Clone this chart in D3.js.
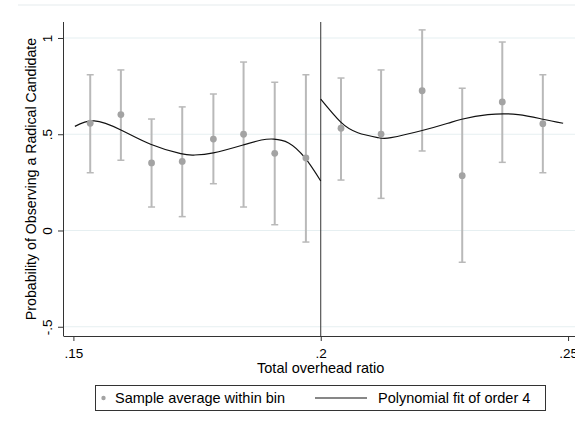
<!DOCTYPE html>
<html>
<head>
<meta charset="utf-8">
<script src="https://cdn.jsdelivr.net/npm/d3@7"></script>
<style>
  html, body { margin: 0; padding: 0; background: #fff; }
  svg { display: block; font-family: "Liberation Sans", Arial, sans-serif; }
</style>
</head>
<body>
<svg id="chart" width="575" height="429"></svg>
<script>
// ---- Data ----
const binX    = [0.1534, 0.1596, 0.1658, 0.1720, 0.1783, 0.1844, 0.1907, 0.1970,
                 0.2041, 0.2122, 0.2205, 0.2286, 0.2367, 0.2449];
const binMean = [0.557, 0.602, 0.351, 0.359, 0.475, 0.500, 0.401, 0.377,
                 0.531, 0.501, 0.726, 0.285, 0.668, 0.555];
const ciHigh  = [0.809, 0.834, 0.579, 0.642, 0.709, 0.875, 0.770, 0.809,
                 0.792, 0.834, 1.042, 0.739, 0.979, 0.809];
const ciLow   = [0.300, 0.365, 0.122, 0.072, 0.243, 0.122, 0.030, -0.060,
                 0.262, 0.167, 0.413, -0.165, 0.354, 0.300];

// Polynomial fit (order 4), left of cutoff
const fitLeftX  = [0.1503, 0.1542, 0.1596, 0.1656, 0.1717, 0.1744, 0.1783, 0.1843, 0.1880, 0.1905, 0.1935, 0.1968, 0.2000];
const fitLeftY  = [0.541, 0.569, 0.522, 0.448, 0.399, 0.392, 0.403, 0.444, 0.470, 0.475, 0.455, 0.378, 0.257];
// Polynomial fit (order 4), right of cutoff
const fitRightX = [0.2000, 0.2040, 0.2075, 0.2116, 0.2142, 0.2203, 0.2257, 0.2285, 0.2338, 0.2399, 0.2449, 0.2490];
const fitRightY = [0.682, 0.564, 0.508, 0.482, 0.482, 0.518, 0.557, 0.578, 0.602, 0.602, 0.578, 0.557];

const cutoff = 0.2;
const xTicks = [0.15, 0.2, 0.25];
const xTickLabels = [".15", ".2", ".25"];
const yTicks = [-0.5, 0, 0.5, 1];
const yTickLabels = ["-.5", "0", ".5", "1"];
const xTitle = "Total overhead ratio";
const yTitle = "Probability of Observing a Radical Candidate";
const legendLabels = ["Sample average within bin", "Polynomial fit of order 4"];

(function () {
// ---- Layout ----
const svg = d3.select("#chart");
const pl = 64, pr = 575, pt = 22, pb = 336;

const x = d3.scaleLinear().domain([0.1481, 0.2514]).range([pl, pr]);
const y = d3.scaleLinear().domain([-0.548, 1.083]).range([pb, pt]);

const gridColor = "#e6eff1";
const axisColor = "#333";
const barColor = "#b9b9b9";
const dotColor = "#a3a3a3";

// faint outer plot-region line at top
svg.append("line").attr("x1", 18).attr("x2", 575).attr("y1", 5).attr("y2", 5)
  .attr("stroke", "#eef2f3").attr("stroke-width", 1.5);

// grid lines
svg.append("g").selectAll("line").data(yTicks).join("line")
  .attr("x1", pl).attr("x2", pr)
  .attr("y1", d => y(d)).attr("y2", d => y(d))
  .attr("stroke", gridColor).attr("stroke-width", 1.2);

// Y axis
const yAxis = d3.axisLeft(y).tickValues(yTicks).tickSize(6).tickFormat((d, i) => yTickLabels[i]);
const gy = svg.append("g").attr("transform", `translate(${pl},0)`).call(yAxis);
gy.select(".domain").attr("stroke", axisColor).attr("d", `M-0.5,${pt}V${pb}`);
gy.selectAll(".tick line").attr("stroke", axisColor);
gy.selectAll(".tick text")
  .attr("x", 0).attr("y", 0).attr("dy", 0)
  .attr("transform", "translate(-12,0) rotate(-90)")
  .attr("text-anchor", "middle")
  .attr("font-size", 13.5).attr("fill", "#000")
  .style("font-family", "Liberation Sans, Arial, sans-serif");

// X axis
const xAxis = d3.axisBottom(x).tickValues(xTicks).tickSize(5).tickFormat((d, i) => xTickLabels[i]);
const gx = svg.append("g").attr("transform", `translate(0,${pb})`).call(xAxis);
gx.select(".domain").attr("stroke", axisColor).attr("d", `M${pl - 0.5},0.5H${pr}`);
gx.selectAll(".tick line").attr("stroke", axisColor);
gx.selectAll(".tick text")
  .attr("y", 22).attr("dy", 0)
  .attr("font-size", 13.5).attr("fill", "#000")
  .style("font-family", "Liberation Sans, Arial, sans-serif");

// axis titles
svg.append("text").attr("x", x(cutoff)).attr("y", 373)
  .attr("text-anchor", "middle").attr("font-size", 14.5).text(xTitle);
svg.append("text").attr("transform", `translate(36,${(pt + pb) / 2}) rotate(-90)`)
  .attr("text-anchor", "middle").attr("font-size", 14.2).text(yTitle);

// cutoff line
svg.append("line").attr("x1", x(cutoff)).attr("x2", x(cutoff))
  .attr("y1", pt).attr("y2", pb)
  .attr("stroke", axisColor).attr("stroke-width", 1);

// error bars
const bins = binX.map((bx, i) => ({ x: bx, m: binMean[i], lo: ciLow[i], hi: ciHigh[i] }));
const eb = svg.append("g").attr("stroke", barColor).attr("stroke-width", 2).attr("fill", "none");
eb.selectAll("line.v").data(bins).join("line").attr("class", "v")
  .attr("x1", d => x(d.x)).attr("x2", d => x(d.x))
  .attr("y1", d => y(d.lo)).attr("y2", d => y(d.hi));
eb.selectAll("line.t").data(bins).join("line").attr("class", "t")
  .attr("x1", d => x(d.x) - 3.5).attr("x2", d => x(d.x) + 3.5)
  .attr("y1", d => y(d.hi)).attr("y2", d => y(d.hi)).attr("stroke-width", 1.5);
eb.selectAll("line.b").data(bins).join("line").attr("class", "b")
  .attr("x1", d => x(d.x) - 3.5).attr("x2", d => x(d.x) + 3.5)
  .attr("y1", d => y(d.lo)).attr("y2", d => y(d.lo)).attr("stroke-width", 1.5);

// fit lines
const line = d3.line().x(d => x(d[0])).y(d => y(d[1])).curve(d3.curveNatural);
const leftFit = fitLeftX.map((v, i) => [v, fitLeftY[i]]);
const rightFit = fitRightX.map((v, i) => [v, fitRightY[i]]);
[leftFit, rightFit].forEach(pts => {
  svg.append("path").attr("d", line(pts)).attr("fill", "none")
    .attr("stroke", "#111").attr("stroke-width", 1.2);
});

// dots
svg.append("g").selectAll("circle").data(bins).join("circle")
  .attr("cx", d => x(d.x)).attr("cy", d => y(d.m)).attr("r", 3.4)
  .attr("fill", dotColor);

// legend
const lg = svg.append("g");
lg.append("rect").attr("x", 95.5).attr("y", 385.5).attr("width", 450).attr("height", 25)
  .attr("fill", "#fff").attr("stroke", "#333").attr("stroke-width", 1);
lg.append("circle").attr("cx", 103.5).attr("cy", 398).attr("r", 2.2).attr("fill", dotColor);
lg.append("text").attr("x", 115).attr("y", 403).attr("font-size", 14.5).text(legendLabels[0]);
lg.append("line").attr("x1", 315).attr("x2", 367).attr("y1", 398).attr("y2", 398)
  .attr("stroke", "#111").attr("stroke-width", 1.2);
lg.append("text").attr("x", 378).attr("y", 403).attr("font-size", 14.5).text(legendLabels[1]);
})();
</script>
</body>
</html>
